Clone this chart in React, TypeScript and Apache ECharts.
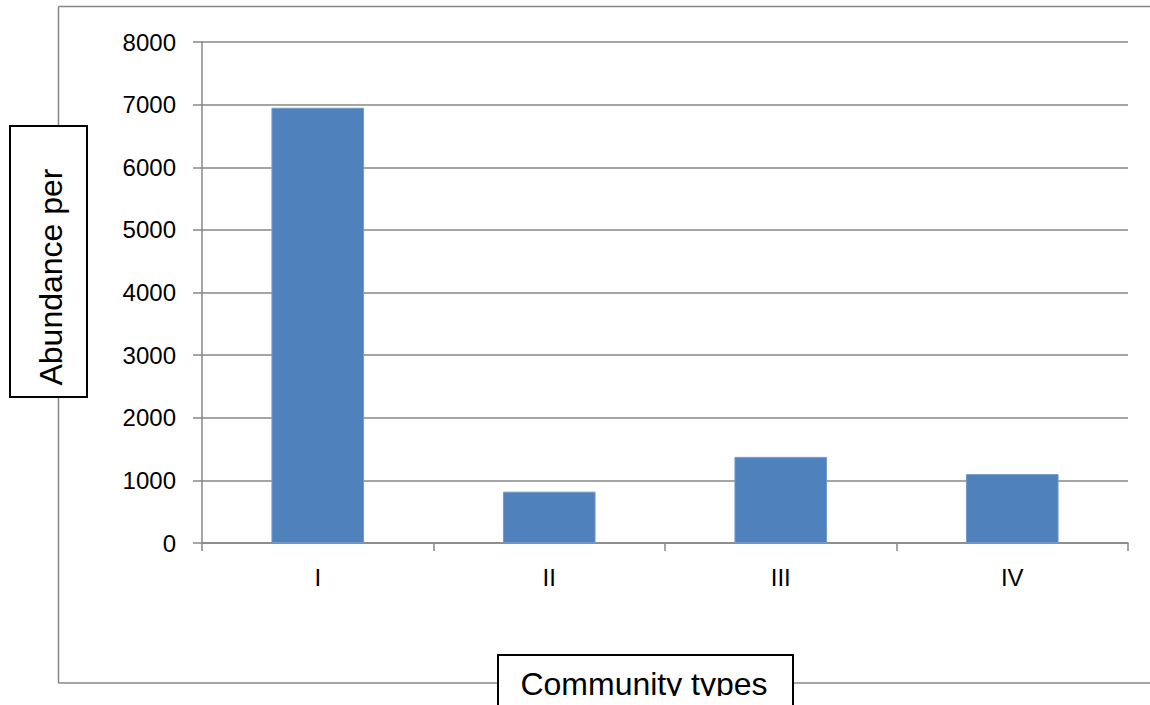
import React, { useEffect, useRef } from "react";
import * as echarts from "echarts";

const categories = ["I", "II", "III", "IV"];
const abundance = [6950, 820, 1375, 1100];
const yTicks = { min: 0, max: 8000, interval: 1000 };
const yTitle = "Abundance per";
const xTitle = "Community types";

export default function App() {
  const ref = useRef<HTMLDivElement>(null);
  useEffect(() => {
    if (!ref.current) return;
    const chart = echarts.init(ref.current, null, { renderer: "svg" });
    const gray = "#878787";
    const font = "'Liberation Sans', Arial, sans-serif";
    const frame = { fill: "none", stroke: gray, lineWidth: 1.5 };
    chart.setOption({
      animation: false,
      backgroundColor: "#ffffff",
      grid: { left: 202, top: 42, right: 22, bottom: 162, containLabel: false },
      xAxis: {
        type: "category",
        data: categories,
        axisLine: { show: true, lineStyle: { color: gray, width: 1.5 } },
        axisTick: { show: true, length: 8, lineStyle: { color: gray, width: 1.5 } },
        axisLabel: { color: "#000", fontSize: 24, fontFamily: font, margin: 22 },
        splitLine: { show: false },
      },
      yAxis: {
        type: "value",
        min: yTicks.min,
        max: yTicks.max,
        interval: yTicks.interval,
        axisLine: { show: true, lineStyle: { color: gray, width: 1.5 } },
        axisTick: { show: true, length: 9, lineStyle: { color: gray, width: 1.5 } },
        axisLabel: {
          color: "#000",
          fontSize: 24,
          fontFamily: font,
          margin: 26,
          formatter: (v: number) => String(v),
        },
        splitLine: { show: true, lineStyle: { color: gray, width: 1.5 } },
      },
      series: [
        {
          type: "bar",
          data: abundance,
          barWidth: "40%",
          itemStyle: { color: "#4F81BD", borderColor: "#7299cb", borderWidth: 1 },
        },
      ],
      graphic: [
        { type: "line", shape: { x1: 58.5, y1: 6.5, x2: 1150, y2: 6.5 }, style: frame, silent: true, z: 0 },
        { type: "line", shape: { x1: 58.5, y1: 6.5, x2: 58.5, y2: 683 }, style: frame, silent: true, z: 0 },
        { type: "line", shape: { x1: 58.5, y1: 683, x2: 1150, y2: 683 }, style: frame, silent: true, z: 0 },
        {
          type: "rect",
          shape: { x: 10, y: 126, width: 77, height: 271 },
          style: { fill: "#fff", stroke: "#000", lineWidth: 2 },
          z: 10,
        },
        {
          type: "text",
          x: 51,
          y: 277,
          rotation: Math.PI / 2,
          style: {
            text: yTitle,
            fontSize: 32,
            fontFamily: font,
            fill: "#000",
            align: "center",
            verticalAlign: "middle",
          },
          z: 11,
        },
        {
          type: "rect",
          shape: { x: 498, y: 655, width: 295, height: 70 },
          style: { fill: "#fff", stroke: "#000", lineWidth: 2 },
          z: 10,
        },
        {
          type: "text",
          x: 644,
          y: 684,
          style: {
            text: xTitle,
            fontSize: 32,
            fontFamily: font,
            fill: "#000",
            align: "center",
            verticalAlign: "middle",
          },
          z: 11,
        },
        {
          type: "rect",
          shape: { x: 500, y: 696, width: 292, height: 12 },
          style: { fill: "#fff" },
          silent: true,
          z: 12,
        },
      ],
    });
    return () => chart.dispose();
  }, []);
  return (
    <div
      ref={ref}
      style={{ position: "fixed", left: 0, top: 0, width: 1150, height: 705 }}
    />
  );
}
